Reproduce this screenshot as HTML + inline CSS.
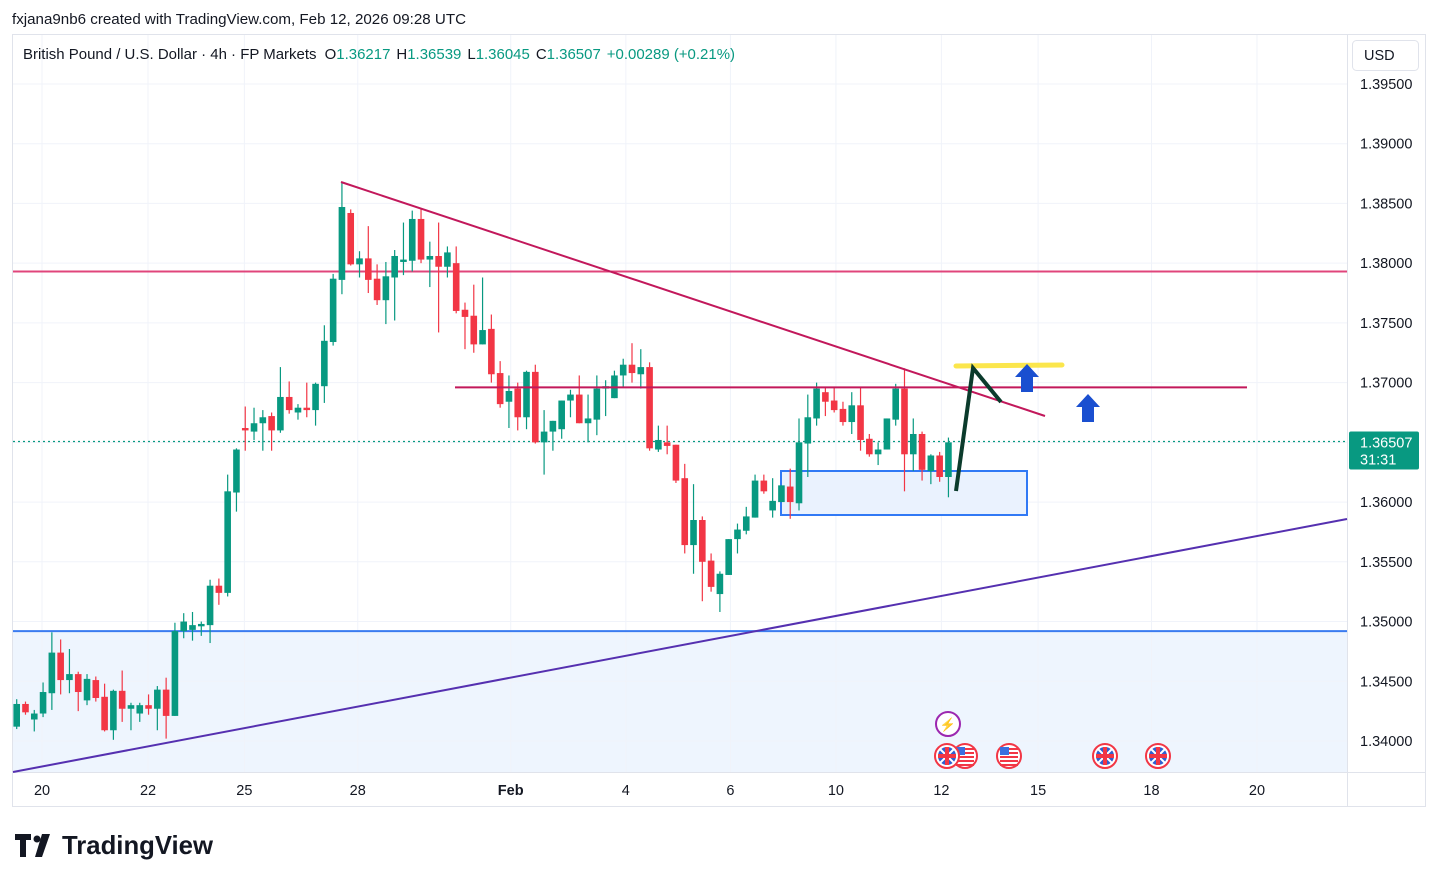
<!DOCTYPE html>
<html><head><meta charset="utf-8">
<style>
body{margin:0;background:#fff;width:1438px;height:882px;overflow:hidden;font-family:"Liberation Sans",sans-serif;}
svg{position:absolute;left:0;top:0}
</style></head>
<body>
<svg id="chart" width="1438" height="882" xmlns="http://www.w3.org/2000/svg"></svg>
<script>
// ---- data ----
const opens  = [1.3412,1.3431,1.3418,1.3423,1.3440,1.3474,1.3451,1.3456,1.3434,1.3451,1.3437,1.3409,1.3442,1.3427,1.3423,1.3430,1.3427,1.3443,1.3421,1.3492,1.3493,1.3496,1.3497,1.3530,1.3524,1.3608,1.3662,1.3659,1.3666,1.3672,1.3660,1.3688,1.3675,1.3679,1.3677,1.3697,1.3734,1.3786,1.3842,1.3799,1.3804,1.3787,1.3769,1.3788,1.3801,1.3802,1.3837,1.3803,1.3806,1.3797,1.3800,1.3761,1.3756,1.3732,1.3745,1.3708,1.3684,1.3695,1.3671,1.3709,1.3650,1.3659,1.3661,1.3685,1.3690,1.3666,1.3669,1.3695,1.3687,1.3706,1.3715,1.3707,1.3713,1.3644,1.3650,1.3648,1.3620,1.3564,1.3585,1.3551,1.3523,1.3539,1.3569,1.3576,1.3587,1.3618,1.3593,1.3600,1.3613,1.3599,1.3649,1.3670,1.3692,1.3685,1.3678,1.3667,1.3681,1.3653,1.3640,1.3644,1.3669,1.3695,1.3640,1.3657,1.3626,1.3639,1.3621];
const highs  = [1.3435,1.3433,1.3426,1.3449,1.3491,1.3485,1.3477,1.3458,1.3456,1.3454,1.3448,1.3443,1.3459,1.3432,1.3432,1.3439,1.3446,1.3453,1.3499,1.3507,1.3508,1.3500,1.3535,1.3536,1.3623,1.3645,1.3680,1.3679,1.3677,1.3675,1.3713,1.3701,1.3682,1.3700,1.3700,1.3748,1.3791,1.3868,1.3845,1.3810,1.3831,1.3799,1.3801,1.3811,1.3834,1.3844,1.3845,1.3818,1.3834,1.3814,1.3814,1.3767,1.3782,1.3788,1.3757,1.3718,1.3706,1.3700,1.3710,1.3715,1.3677,1.3668,1.3685,1.3694,1.3706,1.3690,1.3706,1.3702,1.3710,1.3720,1.3733,1.3728,1.3717,1.3664,1.3664,1.3648,1.3632,1.3615,1.3588,1.3557,1.3542,1.3569,1.3582,1.3596,1.3623,1.3623,1.3620,1.3614,1.3628,1.3670,1.3690,1.3700,1.3696,1.3696,1.3684,1.3692,1.3696,1.3657,1.3650,1.3670,1.3699,1.3712,1.3670,1.3659,1.3640,1.3642,1.3654];
const lows   = [1.3410,1.3422,1.3408,1.3420,1.3426,1.3439,1.3440,1.3425,1.3430,1.3433,1.3408,1.3401,1.3416,1.3409,1.3416,1.3422,1.3409,1.3402,1.3421,1.3486,1.3484,1.3488,1.3482,1.3514,1.3521,1.3592,1.3643,1.3652,1.3643,1.3643,1.3658,1.3674,1.3669,1.3671,1.3664,1.3683,1.3731,1.3774,1.3798,1.3788,1.3775,1.3765,1.3749,1.3752,1.3790,1.3793,1.3800,1.3780,1.3742,1.3788,1.3758,1.3728,1.3725,1.3732,1.3700,1.3679,1.3662,1.3660,1.3661,1.3649,1.3623,1.3643,1.3653,1.3671,1.3666,1.3650,1.3656,1.3672,1.3687,1.3696,1.3700,1.3695,1.3643,1.3642,1.3640,1.3616,1.3557,1.3540,1.3517,1.3525,1.3508,1.3539,1.3557,1.3573,1.3587,1.3607,1.3587,1.3600,1.3586,1.3593,1.3621,1.3664,1.3672,1.3675,1.3664,1.3657,1.3643,1.3638,1.3631,1.3644,1.3664,1.3609,1.3626,1.3618,1.3615,1.3617,1.3604];
const closes = [1.3431,1.3424,1.3423,1.3441,1.3474,1.3451,1.3456,1.3441,1.3452,1.3436,1.3409,1.3442,1.3427,1.3430,1.3430,1.3427,1.3443,1.3421,1.3492,1.3500,1.3497,1.3498,1.3530,1.3524,1.3609,1.3644,1.3660,1.3666,1.3671,1.3660,1.3688,1.3677,1.3679,1.3677,1.3699,1.3735,1.3787,1.3847,1.3799,1.3804,1.3786,1.3769,1.3789,1.3806,1.3803,1.3837,1.3803,1.3806,1.3797,1.3809,1.3760,1.3755,1.3732,1.3744,1.3707,1.3682,1.3693,1.3671,1.3709,1.3650,1.3659,1.3668,1.3685,1.3690,1.3666,1.3670,1.3695,1.3697,1.3706,1.3715,1.3708,1.3713,1.3645,1.3652,1.3647,1.3618,1.3564,1.3585,1.3550,1.3529,1.3540,1.3569,1.3577,1.3588,1.3618,1.3609,1.3601,1.3614,1.3600,1.3650,1.3671,1.3695,1.3684,1.3677,1.3667,1.3681,1.3652,1.3640,1.3644,1.3670,1.3695,1.3640,1.3657,1.3627,1.3639,1.3621,1.3650];
const priceTicks = [1.395,1.390,1.385,1.380,1.375,1.370,1.365,1.360,1.355,1.350,1.345,1.340];
const dateLabels = ["20","22","25","28","Feb","4","6","10","12","15","18","20"];
const dateIdx    = [2.88,14.94,25.9,38.8,56.2,69.3,81.2,93.2,105.2,116.2,129.1,141.1];
const lastPrice = 1.36507;
const resistance = 1.3793, midLine = 1.3696, support = 1.3492;

// ---- axes ----
const X0=16.7, DX=8.79, Y0=741, P0=1.34, PPX=59.73/0.005;
const x = i => X0 + i*DX;
const y = p => Y0 - (p-P0)*PPX;
const NS="http://www.w3.org/2000/svg";
const svg=document.getElementById('chart');
function el(tag,attrs,parent){const e=document.createElementNS(NS,tag);for(const k in attrs)e.setAttribute(k,attrs[k]);(parent||svg).appendChild(e);return e;}
function txt(s,attrs,parent){const e=el('text',attrs,parent);e.textContent=s;return e;}

const frame=el('rect',{x:12.5,y:34.5,width:1413,height:772,fill:'none',stroke:'#e0e3eb'});


const fill=el('rect',{x:13,y:y(support),width:1334,height:772-y(support),fill:'#eef5fe'});



priceTicks.forEach(p=>{
  const g=el('line',{x1:13,x2:1347,y1:y(p),y2:y(p),stroke:'#f0f3fa','stroke-width':1});
  
  
  const t=txt(p.toFixed(5),{x:1360,y:y(p)+5,'font-size':14.5,fill:'#131722'});
  
  
});
dateIdx.forEach((d,k)=>{
  const g=el('line',{x1:x(d),x2:x(d),y1:35,y2:772,stroke:'#f0f3fa','stroke-width':1});
  
  
  const t=txt(dateLabels[k],{x:x(d),y:795,'font-size':14.5,fill:'#131722','text-anchor':'middle','font-weight':dateLabels[k]==='Feb'?'bold':'normal'});
  
  
});
el('line',{x1:1347.5,x2:1347.5,y1:35,y2:806,stroke:'#e0e3eb'});
el('line',{x1:13,x2:1425,y1:772.5,y2:772.5,stroke:'#e0e3eb'});

function ln(n,a){const l=el('line',a);return l;}
ln('support-line',{x1:13,x2:1347,y1:y(support),y2:y(support),stroke:'#3a7bf0','stroke-width':2});
ln('resistance-line',{x1:13,x2:1347,y1:y(resistance),y2:y(resistance),stroke:'#e0457b','stroke-width':2});
ln('purple-trendline',{x1:13,y1:772,x2:1347,y2:519,stroke:'#5530b0','stroke-width':2});
const rb=el('rect',{x:781,y:471,width:246,height:44,fill:'#eaf2fe',stroke:'#3179f5','stroke-width':2});


ln('last-price-line',{x1:13,x2:1347,y1:y(lastPrice),y2:y(lastPrice),stroke:'#089981','stroke-width':1.3,'stroke-dasharray':'2 3'});

for(let i=0;i<opens.length;i++){
  const up=closes[i]>=opens[i], c=up?'#089981':'#f23645';
  const g=el('g',{});
  
  
  el('line',{x1:x(i),x2:x(i),y1:y(highs[i]),y2:y(lows[i]),stroke:c,'stroke-width':1.2},g);
  const top=y(Math.max(opens[i],closes[i])), bot=y(Math.min(opens[i],closes[i]));
  el('rect',{x:x(i)-3.3,y:top,width:6.6,height:Math.max(1,bot-top),fill:c},g);
}

ln('mid-resistance-line',{x1:455,x2:1247,y1:y(midLine),y2:y(midLine),stroke:'#c2185b','stroke-width':2});
ln('descending-trendline',{x1:341,y1:182,x2:1045,y2:416,stroke:'#c2185b','stroke-width':2});
ln('target-line',{x1:956,y1:366,x2:1062,y2:365,stroke:'#fbe64c','stroke-width':5,'stroke-linecap':'round'});
const pl=el('polyline',{points:'956,491 973,368 1001,402',fill:'none',stroke:'#0b3b2c','stroke-width':4});


[[1027,364],[1088,394]].forEach(([ax,ay])=>{
  const a=el('polygon',{points:`${ax},${ay} ${ax+12},${ay+13} ${ax+6},${ay+13} ${ax+6},${ay+28} ${ax-6},${ay+28} ${ax-6},${ay+13} ${ax-12},${ay+13}`,fill:'#1a4fd0'});
  
  
});

const ev=el('g',{});


el('circle',{cx:948,cy:724,r:12,fill:'#fff',stroke:'#9c27b0','stroke-width':2},ev);
txt('⚡',{x:948,y:729,'font-size':13,fill:'#9c27b0','text-anchor':'middle'},ev);
[[965,'us'],[947,'uk'],[1009,'us'],[1105,'uk'],[1158,'uk']].forEach(([cx,k])=>{
  const g=el('g',{});
  
  
  el('circle',{cx,cy:756,r:12,fill:'#fff',stroke:'#f23645','stroke-width':2},g);
  if(k==='us'){
    for(let s=0;s<5;s++)el('rect',{x:cx-9,y:748+s*4,width:18,height:2,fill:'#f23645'},g);
    el('rect',{x:cx-9,y:747,width:9,height:8,fill:'#3a6fe0'},g);
  }else{
    el('circle',{cx,cy:756,r:9,fill:'#2f5fd0'},g);
    el('line',{x1:cx-7,y1:749,x2:cx+7,y2:763,stroke:'#fff','stroke-width':2},g);
    el('line',{x1:cx+7,y1:749,x2:cx-7,y2:763,stroke:'#fff','stroke-width':2},g);
    el('rect',{x:cx-9,y:754,width:18,height:4,fill:'#f23645'},g);
    el('rect',{x:cx-2,y:747,width:4,height:18,fill:'#f23645'},g);
  }
});

const pb=el('g',{});


el('rect',{x:1349,y:y(lastPrice)-10,width:70,height:38,rx:2,fill:'#089981'},pb);
txt(lastPrice.toFixed(5),{x:1360,y:y(lastPrice)+6,'font-size':14.5,fill:'#fff'},pb);
txt('31:31',{x:1360,y:y(lastPrice)+23,'font-size':14.5,fill:'#fff'},pb);

const ub=el('g',{});


el('rect',{x:1352.5,y:40.5,width:66,height:30,rx:4,fill:'#fff',stroke:'#e0e3eb'},ub);
txt('USD',{x:1364,y:60,'font-size':14.5,fill:'#131722'},ub);

const h=txt('fxjana9nb6 created with TradingView.com, Feb 12, 2026 09:28 UTC',{x:12,y:24,'font-size':15,fill:'#131722',textLength:454,lengthAdjust:'spacingAndGlyphs'});


const lg=el('g',{});


const t=el('text',{x:23,y:59,'font-size':15,fill:'#131722',textLength:712,lengthAdjust:'spacingAndGlyphs'},lg);
t.innerHTML='British Pound / U.S. Dollar · 4h · FP Markets  <tspan dx="4">O</tspan><tspan fill="#089981">1.36217</tspan><tspan dx="6">H</tspan><tspan fill="#089981">1.36539</tspan><tspan dx="6">L</tspan><tspan fill="#089981">1.36045</tspan><tspan dx="6">C</tspan><tspan fill="#089981">1.36507</tspan><tspan dx="6" fill="#089981">+0.00289 (+0.21%)</tspan>';

const lo=el('g',{});


el('path',{d:'M15 834h16v6h-5v17h-6v-17h-5z',fill:'#131722'},lo);
el('circle',{cx:37,cy:839,r:3.5,fill:'#131722'},lo);
el('path',{d:'M42 834h8l-8 23h-7z',fill:'#131722'},lo);
txt('TradingView',{x:62,y:854,'font-size':26,'font-weight':'bold',fill:'#131722',textLength:151,lengthAdjust:'spacingAndGlyphs'},lo);
</script>
</body></html>
